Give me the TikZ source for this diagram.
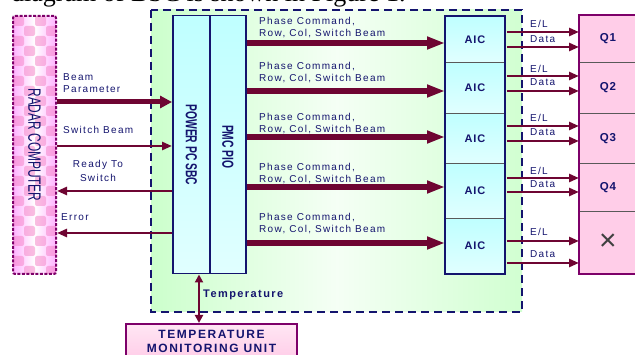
\documentclass[tikz,border=0pt]{standalone}
\usepackage{fontspec}
\usepackage{graphicx}
\setmainfont{Liberation Sans}
\newfontfamily\lblfont[LetterSpace=13]{Liberation Sans}
\newfontfamily\hdfont[LetterSpace=8]{Liberation Sans}
\newfontfamily\capfont{Liberation Sans}
\newfontfamily\paperfont{Liberation Serif}
\usetikzlibrary{arrows.meta}
\definecolor{navy}{RGB}{20,20,110}
\definecolor{maroon}{RGB}{110,5,50}
\definecolor{plum}{RGB}{125,0,105}
\definecolor{qpink}{RGB}{255,205,232}
\tikzset{
	lbl/.style={font=\lblfont\fontsize{10}{12}\selectfont, text=navy, inner sep=0pt, align=left},
	boldlbl/.style={font=\lblfont\bfseries\fontsize{11}{13}\selectfont, text=navy, inner sep=0pt},
	cyanbox/.style={draw=navy, line width=1.5pt, top color=cyan!25, bottom color=cyan!12, anchor=north west, inner sep=0pt},
	aicbox/.style={draw=gray!70!black, line width=0.8pt, top color=cyan!25, bottom color=cyan!12, anchor=north west, minimum width=59, inner sep=0pt, font=\hdfont\bfseries\fontsize{11}{13}\selectfont, text=navy},
	qbox/.style={draw=gray!70!black, line width=0.8pt, fill=qpink, anchor=north west, minimum width=57, inner sep=0pt, font=\hdfont\bfseries\fontsize{11.5}{13}\selectfont, text=navy},
	bigarrow/.style={draw=maroon, line width=5pt, -{Triangle[length=12pt, width=12pt]}},
	busarrow/.style={draw=maroon, line width=6pt, -{Triangle[length=18pt, width=12pt]}},
	smallarrow/.style={draw=maroon, line width=2.5pt, -{Triangle[length=10pt, width=8pt]}},
	linkarrow/.style={draw=maroon, line width=2.5pt, shorten <=2pt, -{Triangle[length=10pt, width=8pt]}},
	tmparrow/.style={draw=maroon, line width=2.5pt, {Triangle[length=8pt, width=8pt]}-{Triangle[length=8pt, width=8pt]}}
}
\begin{document}
\begin{tikzpicture}[x=1pt, y=-1pt]
	\useasboundingbox (0,0) rectangle (635,355);
	% line of the paper above the figure
	\node[anchor=base west, inner sep=0pt, font=\paperfont\fontsize{26}{30}\selectfont] (cap) at (11,1.5) {diagram of BSC is shown in Figure 1.};
	% BSC frame
	\draw[navy, line width=2.5pt, dash pattern=on 8pt off 5pt, left color=green!20, right color=green!18, middle color=green!4] (151,10) rectangle (522,312);
	% radar computer
	\node[anchor=north west, minimum width=43, minimum height=258, inner sep=0pt,
		left color=magenta!30, right color=magenta!30, middle color=white,
		draw=plum, line width=2pt, dash pattern=on 3pt off 1.5pt, rounded corners=2pt,
		path picture={
			\foreach \i in {0,...,3}
				\foreach \j in {0,...,25} {
					\pgfmathtruncatemacro\k{mod(\i+\j,2)}
					\ifnum\k=0
						\fill[magenta!50, opacity=0.5] ([shift={(11*\i,10*\j)}]path picture bounding box.north west) rectangle ++(11,10);
					\fi
				}
		}] (radar) at (12,15) {};
	\node[rotate=-90, text=navy, font=\capfont\fontsize{11.9}{13}\selectfont] (radartxt) at (radar.center) {\scalebox{1}[1.5]{RADAR COMPUTER}};
	% SBC and PIO
	\node[cyanbox, minimum width=37, minimum height=258] (sbc) at (172,15) {};
	\node[cyanbox, minimum width=36, minimum height=258] (pio) at (209,15) {};
	\node[rotate=-90, text=navy, font=\capfont\bfseries\fontsize{10.3}{12}\selectfont] (sbctxt) at (sbc.center) {\scalebox{1}[1.55]{POWER PC SBC}};
	\node[rotate=-90, text=navy, font=\capfont\bfseries\fontsize{10.3}{12}\selectfont] (piotxt) at ([yshift=-2]pio.center) {\scalebox{1}[1.55]{PMC PIO}};
	% AIC column
	\foreach \n/\top/\h in {1/16/46, 2/62/51, 3/113/50, 4/163/55, 5/218/55}
		\node[aicbox, minimum height=\h] (aic\n) at (445,\top) {AIC};
	\draw[navy, line width=1.5pt] (aic1.north west) rectangle (aic5.south east);
	% Q column
	\foreach \n/\top/\h/\t in {1/15/47/Q1, 2/62/51/Q2, 3/113/50/Q3, 4/163/48/Q4, 5/211/62/{\color{black!75}\mdseries\fontsize{30}{30}\selectfont\char"00D7}}
		\node[qbox, minimum height=\h] (q\n) at (579,\top) {\t};
	\draw[plum, line width=2pt] (q1.north east) -- (q1.north west) -- (q5.south west) -- (q5.south east);
	% temperature monitoring unit
	\node[anchor=north west, minimum width=171, minimum height=35, inner sep=0pt, align=center,
		top color=qpink!50, bottom color=qpink, draw=plum, line width=2pt,
		text=navy, font=\lblfont\bfseries\fontsize{12}{14}\selectfont] (tmu) at (125,323) {TEMPERATURE\\MONITORING UNIT};
	% radar links
	\draw[bigarrow] (radar.east |- 0,102) -- (sbc.west |- 0,102);
	\draw[smallarrow] (radar.east |- 0,146) -- (sbc.west |- 0,146);
	\draw[smallarrow] (sbc.west |- 0,191) -- (radar.east |- 0,191);
	\draw[smallarrow] (sbc.west |- 0,233) -- (radar.east |- 0,233);
	\node[lbl, anchor=north west] (bp) at (63,73.5) {Beam\\Parameter};
	\node[lbl, anchor=north west] (sw) at (63,126.5) {Switch Beam};
	\node[lbl, anchor=north, align=center] (rts) at (98,160.5) {Ready To\\[2pt]Switch};
	\node[lbl, anchor=north west] (err) at (61,213.5) {Error};
	% buses to the AICs
	\foreach \n/\y/\ty in {1/43/17.5, 2/91/62.5, 3/137/113.5, 4/187/163.5, 5/243/213.5} {
		\draw[busarrow] (pio.east |- 0,\y) -- (aic\n.west |- 0,\y);
		\node[lbl, anchor=north west] (ph\n) at (259,\ty) {Phase Command,\\Row, Col, Switch Beam};
	}
	% E/L and Data lines
	\foreach \n/\a/\b/\ea/\eb in {1/32/47/24/39, 2/76/91/69/82, 3/126/141/118/132, 4/178/192/171/184, 5/241/263/232/254} {
		\draw[linkarrow] (aic\n.east |- 0,\a) -- (q\n.west |- 0,\a);
		\draw[linkarrow] (aic\n.east |- 0,\b) -- (q\n.west |- 0,\b);
		\node[lbl, anchor=base west] (el\n) at (530,\ea+3.5) {E/L};
		\node[lbl, anchor=base west] (dt\n) at (530,\eb+3.5) {Data};
	}
	% temperature
	\coordinate (tx) at (199,0);
	\draw[tmparrow] (sbc.south -| tx) -- (tmu.north -| tx);
	\node[boldlbl, anchor=north west] (temp) at (203,290) {Temperature};
\end{tikzpicture}
\end{document}
